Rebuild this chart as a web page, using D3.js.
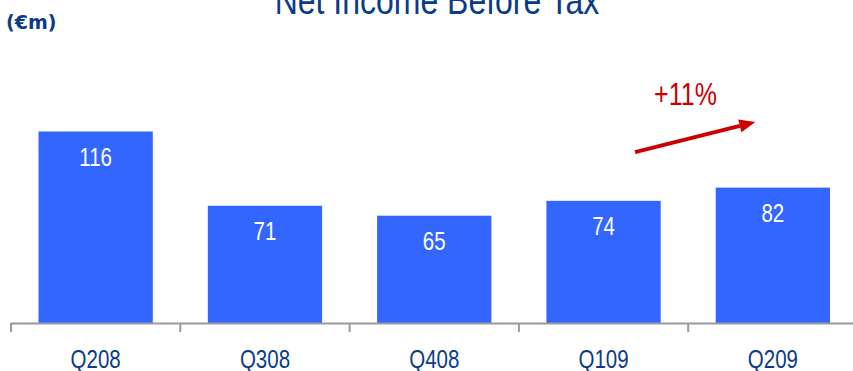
<!DOCTYPE html>
<html>
<head>
<meta charset="utf-8">
<script src="https://cdn.jsdelivr.net/npm/d3@7/dist/d3.min.js"></script>
<style>
  html, body { margin: 0; padding: 0; background: #fff; }
  svg { display: block; }
</style>
</head>
<body>
<svg id="chart" width="853" height="371"></svg>
<script>
// Quarterly net income before tax, in millions of euros
const quarters = ["Q208", "Q308", "Q408", "Q109", "Q209"];
const incomeBeforeTax = [116, 71, 65, 74, 82];
const growthLabel = "+11%";

const width = 853, height = 371;
const baseY = 323;
const sans = "'Liberation Sans', Arial, sans-serif";
const squeeze = 0.82;           // horizontal compression for a condensed look
const darkBlue = "#0B3B88";
const barBlue = "#3366FF";
const red = "#CC0000";

const svg = d3.select("#chart");

// Condensed text: anchored at (x, y), glyphs squeezed horizontally
function narrowText(parent, x, y, size, fill, anchor) {
  return parent.append("text")
    .attr("transform", `translate(${x},${y}) scale(${squeeze},1)`)
    .attr("text-anchor", anchor || "middle")
    .attr("font-family", sans)
    .attr("font-size", size)
    .attr("fill", fill);
}

const x = d3.scaleBand()
  .domain(quarters)
  .range([11, 857.5])
  .paddingInner(0.325)
  .paddingOuter(0.1625);

const y = d3.scaleLinear()
  .domain([0, 116])
  .range([baseY, 131.5]);

// Title (partly above the top edge)
narrowText(svg, 437, 14, 39, darkBlue).text("Net Income Before Tax");

// Unit note
svg.append("text")
  .attr("x", 6)
  .attr("y", 29)
  .attr("font-family", "'DejaVu Sans', sans-serif")
  .attr("font-weight", "bold")
  .attr("font-size", 19)
  .attr("fill", darkBlue)
  .text("(€m)");

// Bars
const data = quarters.map((q, i) => ({ q, v: incomeBeforeTax[i] }));

svg.append("g").selectAll("rect")
  .data(data)
  .join("rect")
  .attr("x", d => x(d.q))
  .attr("y", d => y(d.v))
  .attr("width", x.bandwidth())
  .attr("height", d => y(0) - y(d.v))
  .attr("fill", barBlue);

// Values inside the bars
const valueLayer = svg.append("g");
data.forEach(d => {
  narrowText(valueLayer, x(d.q) + x.bandwidth() / 2, y(d.v) + 34.5, 25, "#ffffff").text(d.v);
});

// Category axis: baseline with ticks on band boundaries
const axis = svg.append("g");
const step = x.step();
const boundary = q => x(q) - step * x.paddingInner() / 2;

axis.append("line")
  .attr("x1", boundary(quarters[0]))
  .attr("x2", width)
  .attr("y1", baseY + 0.5)
  .attr("y2", baseY + 0.5)
  .attr("stroke", "#9a9a9a")
  .attr("stroke-width", 2);

axis.selectAll("line.tick")
  .data(quarters)
  .join("line")
  .attr("class", "tick")
  .attr("x1", d => boundary(d))
  .attr("x2", d => boundary(d))
  .attr("y1", baseY)
  .attr("y2", baseY + 9)
  .attr("stroke", "#9a9a9a")
  .attr("stroke-width", 2);

quarters.forEach(q => {
  narrowText(axis, x(q) + x.bandwidth() / 2, 367.5, 25, darkBlue).text(q);
});

// Growth arrow from Q109 toward Q209
const cx = q => x(q) + x.bandwidth() / 2;
const x0 = cx("Q109") + 31.5, y0 = y(103.5);
const x1 = cx("Q209") - 17.5, y1 = y(121.8);
const ang = Math.atan2(y1 - y0, x1 - x0);
const headLen = 16, headHalf = 6.5;
const bx = x1 - headLen * Math.cos(ang), by = y1 - headLen * Math.sin(ang);

svg.append("line")
  .attr("x1", x0).attr("y1", y0)
  .attr("x2", bx).attr("y2", by)
  .attr("stroke", red)
  .attr("stroke-width", 4);

svg.append("path")
  .attr("d", d3.line()([
    [x1, y1],
    [bx - headHalf * Math.sin(ang), by + headHalf * Math.cos(ang)],
    [bx + headHalf * Math.sin(ang), by - headHalf * Math.cos(ang)]
  ]) + "Z")
  .attr("fill", red);

narrowText(svg, 685.5, 105, 30.5, red).text(growthLabel);
</script>
</body>
</html>
